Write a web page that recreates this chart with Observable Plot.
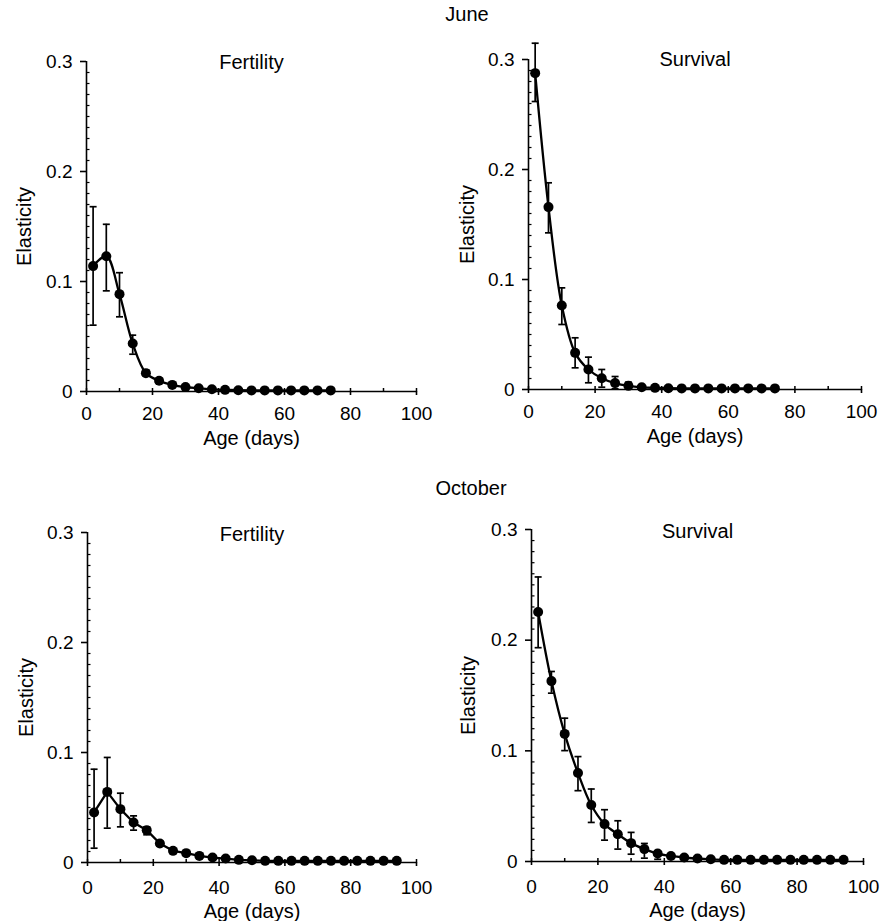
<!DOCTYPE html>
<html><head><meta charset="utf-8">
<script src="https://cdn.jsdelivr.net/npm/d3@7"></script>
<script src="https://cdn.jsdelivr.net/npm/@observablehq/plot@0.6"></script>
<style>
body{margin:0;background:#fff;}
#root{position:relative;width:891px;height:921px;overflow:hidden;font-family:"Liberation Sans",Arial,sans-serif;color:#000;background:#fff;}
.panel{position:absolute;}
.month{position:absolute;font-size:20px;line-height:1;transform:translateX(-50%);white-space:nowrap;}
</style></head><body><div id="root"></div>
<script>
// ---- data ----
const months = ["June", "October"];
const panelTitles = ["Fertility", "Survival"];
const xLabel = "Age (days)";
const yLabel = "Elasticity";

const juneAge = [2,6,10,14,18,22,26,30,34,38,42,46,50,54,58,62,66,70,74];
const juneFert = [0.114,0.123,0.0885,0.0436,0.0167,0.0097,0.006,0.004,0.003,0.002,0.0015,0.0012,0.001,0.001,0.001,0.001,0.001,0.001,0.001];
const juneFertHi = [0.168,0.152,0.108,0.0512,0.0195,0.012];
const juneFertLo = [0.0603,0.0915,0.0679,0.0339,0.0145,0.0075];
const juneSurv = [0.2876,0.1658,0.0764,0.0333,0.0182,0.0103,0.0058,0.0033,0.002,0.0015,0.0012,0.001,0.001,0.001,0.001,0.001,0.001,0.001,0.001];
const juneSurvHi = [0.3148,0.1879,0.0924,0.047,0.0294,0.0182,0.0118,0.0067];
const juneSurvLo = [0.2618,0.1424,0.0591,0.0197,0.0061,0.0021,0.0006,0.0005];

const octAge = [2,6,10,14,18,22,26,30,34,38,42,46,50,54,58,62,66,70,74,78,82,86,90,94];
const octFert = [0.0455,0.0642,0.0485,0.0364,0.0294,0.0173,0.0106,0.0085,0.006,0.0045,0.0036,0.0024,0.002,0.0015,0.0015,0.0015,0.0015,0.0015,0.0015,0.0015,0.0015,0.0015,0.0015,0.0015];
const octFertHi = [0.0848,0.0955,0.063,0.0424,0.0324,0.0195];
const octFertLo = [0.013,0.0312,0.0324,0.0294,0.0252,0.015];
const octSurv = [0.2255,0.163,0.1153,0.08,0.051,0.0338,0.0247,0.0166,0.0112,0.0072,0.005,0.0036,0.0027,0.002,0.0015,0.0015,0.0015,0.0015,0.0015,0.0015,0.0015,0.0015,0.0015,0.0015];
const octSurvHi = [0.2571,0.1717,0.1295,0.0948,0.0655,0.0468,0.0368,0.0263,0.0163,0.0097];
const octSurvLo = [0.1932,0.1521,0.1002,0.064,0.0353,0.0193,0.0112,0.0066,0.003,0.002];

const xMajor = [0,20,40,60,80,100];
const xMinor = [10,30,50,70,90];
const yMajor = [0,0.1,0.2,0.3];
const yTickLabels = ["0","0.1","0.2","0.3"];
const yMinor = [0.01,0.02,0.03,0.04,0.05,0.06,0.07,0.08,0.09,0.11,0.12,0.13,0.14,0.15,0.16,0.17,0.18,0.19,0.21,0.22,0.23,0.24,0.25,0.26,0.27,0.28,0.29];

// ---- drawing ----
const root = document.getElementById("root");
const len = size => Math.sqrt(size / Math.PI);
const capSymbol = {draw(ctx, size){ const w = len(size); ctx.moveTo(-w,0); ctx.lineTo(w,0); }};
const tickRight = {draw(ctx, size){ const l = len(size); ctx.moveTo(0,0); ctx.lineTo(l,0); }};
const tickUp = {draw(ctx, size){ const l = len(size); ctx.moveTo(0,0); ctx.lineTo(0,-l); }};

function panel(cfg) {
  const rows = cfg.ages.map((a,i) => ({age:a, v:cfg.vals[i], hi: cfg.hi[i] ?? null, lo: cfg.lo[i] ?? null}));
  const errs = rows.filter(d => d.hi != null);
  const plot = Plot.plot({
    width: cfg.w, height: cfg.h,
    marginLeft: cfg.ml, marginRight: cfg.mr, marginTop: cfg.mt, marginBottom: cfg.mb,
    style: {fontFamily: '"Liberation Sans", Arial, sans-serif', fontSize: "19px", color: "black", background: "white", overflow: "visible"},
    x: {domain: [0,100]},
    y: {domain: [0,0.3]},
    marks: [
      Plot.ruleY([0], {stroke: "black", strokeWidth: 1.6}),
      Plot.ruleX([0], {stroke: "black", strokeWidth: 1.6}),
      Plot.axisX({ticks: xMajor, tickSize: 4, tickPadding: cfg.xPad, tickFormat: d => String(d), strokeWidth: 1.6, label: null}),
      Plot.dot(xMajor.concat(xMinor), {x: d => d, frameAnchor: "bottom", symbol: tickUp, r: 3.5, stroke: "black", strokeWidth: 1.5, fill: "none"}),
      Plot.axisY({ticks: yMajor, tickSize: 6, tickPadding: 8, tickFormat: d => yTickLabels[yMajor.indexOf(d)], strokeWidth: 1.6, label: null}),
      Plot.dot(yMinor, {y: d => d, frameAnchor: "left", symbol: tickRight, r: 3, stroke: "black", strokeWidth: 1.2, fill: "none"}),
      Plot.line(rows, {x: "age", y: "v", curve: cfg.curve, stroke: "black", strokeWidth: 2.3}),
      Plot.ruleX(errs, {x: "age", y1: "lo", y2: "hi", stroke: "black", strokeWidth: 1.7}),
      Plot.dot(errs, {x: "age", y: "hi", symbol: capSymbol, r: 3.5, stroke: "black", strokeWidth: 1.7, fill: "none"}),
      Plot.dot(errs, {x: "age", y: "lo", symbol: capSymbol, r: 3.5, stroke: "black", strokeWidth: 1.7, fill: "none"}),
      Plot.dot(rows, {x: "age", y: "v", r: 5, fill: "black", stroke: "none"}),
      Plot.text([cfg.title], {text: d => d, frameAnchor: "top", lineAnchor: "bottom", textAnchor: "middle", dy: cfg.titleDy, fontSize: 20}),
      Plot.text([yLabel], {text: d => d, frameAnchor: "left", rotate: -90, textAnchor: "middle", lineAnchor: "middle", dx: cfg.yDx, fontSize: 20}),
      Plot.text([xLabel], {text: d => d, frameAnchor: "bottom", lineAnchor: "top", textAnchor: "middle", dy: cfg.xDy, fontSize: 20})
    ]
  });
  const div = document.createElement("div");
  div.className = "panel";
  div.style.left = cfg.left + "px";
  div.style.top = cfg.top + "px";
  div.appendChild(plot);
  root.appendChild(div);
}

panel({ages: juneAge, vals: juneFert, hi: juneFertHi, lo: juneFertLo, title: panelTitles[0], curve: "catmull-rom",
  left: 0, top: 0, w: 445, h: 470, ml: 86, mr: 29, mt: 61, mb: 79, titleDy: 7, yDx: -62, xDy: 39, xPad: 11});
panel({ages: juneAge, vals: juneSurv, hi: juneSurvHi, lo: juneSurvLo, title: panelTitles[1], curve: "catmull-rom",
  left: 445, top: 0, w: 445, h: 470, ml: 83, mr: 29, mt: 59, mb: 81, titleDy: 6, yDx: -61, xDy: 39, xPad: 11});
panel({ages: octAge, vals: octFert, hi: octFertHi, lo: octFertLo, title: panelTitles[0], curve: "linear",
  left: 0, top: 460, w: 445, h: 461, ml: 87, mr: 29, mt: 72, mb: 59, titleDy: 8, yDx: -61, xDy: 41, xPad: 14});
panel({ages: octAge, vals: octSurv, hi: octSurvHi, lo: octSurvLo, title: panelTitles[1], curve: "catmull-rom",
  left: 445, top: 460, w: 446, h: 461, ml: 86, mr: 28, mt: 69, mb: 60, titleDy: 8, yDx: -63, xDy: 41, xPad: 14});

const monthPos = [{x: 467, y: 4}, {x: 471, y: 478}];
months.forEach((m, i) => {
  const d = document.createElement("div");
  d.className = "month";
  d.textContent = m;
  d.style.left = monthPos[i].x + "px";
  d.style.top = monthPos[i].y + "px";
  root.appendChild(d);
});
</script></body></html>
